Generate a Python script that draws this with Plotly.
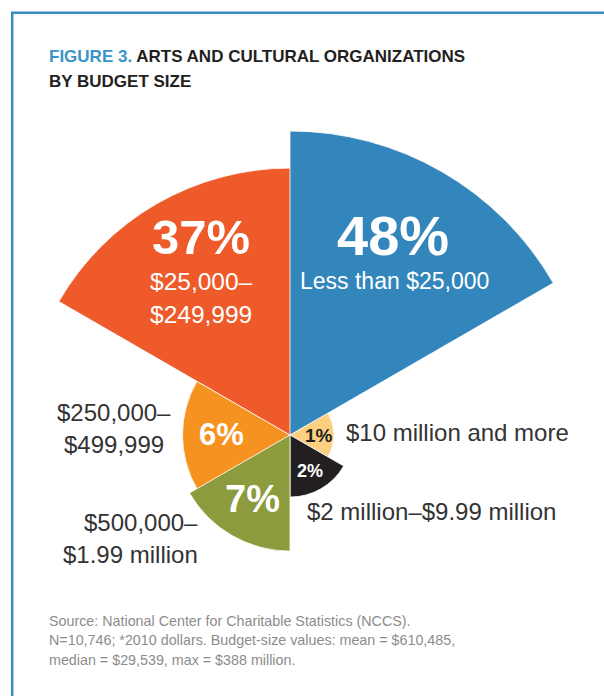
import numpy as np
import plotly.graph_objects as go

# ---------------- data ----------------
categories = ["Less than $25,000", "$10 million and more", "$2 million\u2013$9.99 million",
              "$500,000\u2013$1.99 million", "$250,000\u2013$499,999", "$25,000\u2013$249,999"]
shares = [48, 1, 2, 7, 6, 37]          # percent of organizations
colors = ["#3386bc", "#fdcf81", "#231f20", "#8b9b3d", "#f6921f", "#ee5a2a"]

# ---------------- layout constants ----------------
W, H = 604, 696
CX, CY = 290, 435                  # pixel centre of the rose
K = 304 / np.sqrt(max(shares))     # pixels per unit of sqrt(percent)
SECT = 360 / len(shares)           # equal angular sectors

r_vals = np.sqrt(shares)           # area-proportional radii
thetas = [SECT * i + SECT / 2 for i in range(len(shares))]

# three polar subplots (clip sectors) so that the rose can be placed exactly
groups = {
    "polar":  dict(idx=[0],       sector=[30, 90],   bbox=(0, 0, np.cos(np.pi/6), 1),       rmax=7.0),
    "polar2": dict(idx=[4, 5],    sector=[90, 210],  bbox=(-1, -0.5, 0, 1),                rmax=6.25),
    "polar3": dict(idx=[1, 2, 3], sector=[210, 390], bbox=(-np.cos(np.pi/6), -1, 1, 0.5),   rmax=2.85),
}

fig = go.Figure()
layout_polars = {}
for name, g in groups.items():
    for i in g["idx"]:
        fig.add_trace(go.Barpolar(
            r=[r_vals[i]], theta=[thetas[i]], width=[SECT],
            marker=dict(color=colors[i], line=dict(color="white", width=0.8)),
            name=categories[i], subplot=name, hoverinfo="name", showlegend=False))
    R = g["rmax"] * K
    x0, y0, x1, y1 = g["bbox"]
    dom = dict(x=[(CX + x0 * R) / W, (CX + x1 * R) / W],
               y=[1 - (CY - y0 * R) / H, 1 - (CY - y1 * R) / H])
    layout_polars[name] = dict(
        domain=dom, sector=g["sector"], bgcolor="rgba(0,0,0,0)", bargap=0,
        radialaxis=dict(range=[0, g["rmax"]], visible=False, showgrid=False),
        angularaxis=dict(rotation=90, direction="clockwise", visible=False, showgrid=False),
    )

fig.update_layout(**layout_polars)

BODY = "Liberation Sans, Arial, sans-serif"

def ann(text, px, py, size, color, xanchor="center", family=BODY):
    fig.add_annotation(x=px / W, y=1 - py / H, xref="paper", yref="paper",
                       text=text, showarrow=False, xanchor=xanchor, yanchor="middle",
                       font=dict(size=size, color=color, family=family))

pct = [f"{s}%" for s in shares]
# percentages inside slices
ann(f"<b>{pct[0]}</b>", 393, 236, 56, "white")
ann(f"<b>{pct[5]}</b>", 201, 237, 49, "white")
ann(f"<b>{pct[4]}</b>", 221, 434, 31, "white")
ann(f"<b>{pct[3]}</b>", 252, 499, 38, "white")
ann(f"<b>{pct[1]}</b>", 319, 436, 19, "#231f20")
ann(f"<b>{pct[2]}</b>", 310, 471, 18, "white")

# category labels
ann(categories[0], 394, 281, 23, "white")
ann("$25,000\u2013", 201, 281.5, 24.5, "white")
ann("$249,999", 200.5, 314.5, 24.5, "white")
ann("$250,000\u2013", 114, 412.5, 24, "#333333")
ann("$499,999", 114, 444, 24, "#333333")
ann("$500,000\u2013", 200, 522, 24, "#333333", xanchor="right")
ann("$1.99 million", 200, 554, 24, "#333333", xanchor="right")
ann(categories[1], 344, 432.5, 24, "#333333", xanchor="left")
ann(categories[2], 305, 511, 24, "#333333", xanchor="left")

# title
ann("<b><span style='color:#3a93c9'>FIGURE 3.</span> ARTS AND CULTURAL ORGANIZATIONS</b>",
    47, 57, 17, "#231f20", xanchor="left")
ann("<b>BY BUDGET SIZE</b>", 47, 81.7, 17, "#231f20", xanchor="left")

# source
src = ["Source: National Center for Charitable Statistics (NCCS).",
       "N=10,746; *2010 dollars. Budget-size values: mean = $610,485,",
       "median = $29,539, max = $388 million."]
for line, py in zip(src, [620.5, 640, 659.5]):
    ann(line, 47, py, 14.3, "#8c8c8c", xanchor="left")

# frame
fig.add_shape(type="line", xref="paper", yref="paper", x0=12.2 / W, x1=1.01, y0=1 - 12.8 / H, y1=1 - 12.8 / H,
              line=dict(color="#3a8bc0", width=2.5))
fig.add_shape(type="line", xref="paper", yref="paper", x0=12.2 / W, x1=12.2 / W, y0=1 - 11.6 / H, y1=-0.01,
              line=dict(color="#3a8bc0", width=2.5))

fig.update_layout(width=W, height=H, margin=dict(l=0, r=0, t=0, b=0),
                  paper_bgcolor="white", plot_bgcolor="white", showlegend=False)

fig.write_html("out.html", config={"displayModeBar": False},
               post_script="document.body.style.margin='0';document.body.style.overflow='hidden';")
